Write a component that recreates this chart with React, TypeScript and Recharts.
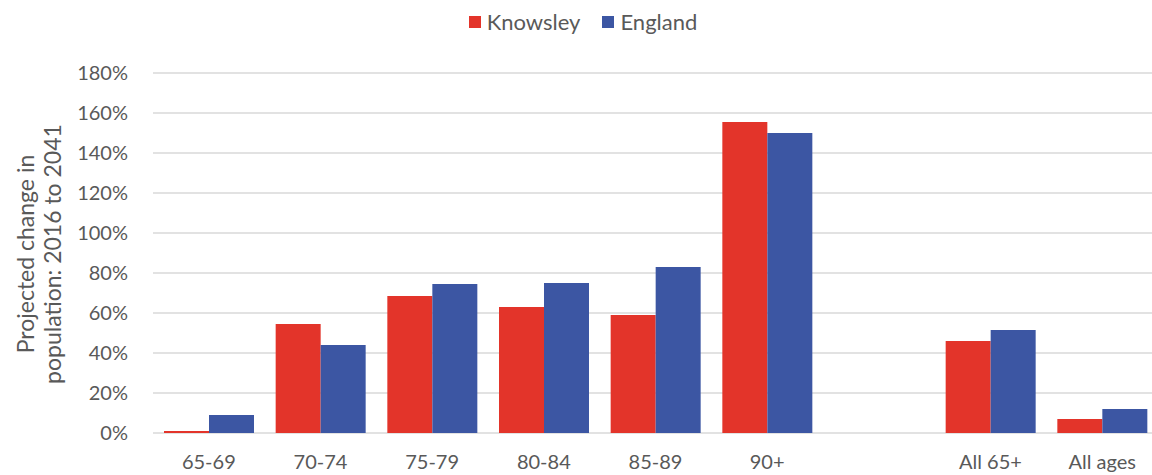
import { Bar, BarChart, CartesianGrid, Legend, XAxis, YAxis } from 'recharts';

const CATEGORIES = ['65-69', '70-74', '75-79', '80-84', '85-89', '90+', '', 'All 65+', 'All ages'];
const KNOWSLEY = [1, 54.5, 68.5, 63, 59, 155.5, null, 46, 7];
const ENGLAND = [9, 44, 74.5, 75, 83, 150, null, 51.5, 12];
const Y_TICKS = [0, 20, 40, 60, 80, 100, 120, 140, 160, 180];

const RED = '#e3342a';
const BLUE = '#3c56a3';
const TEXT = '#595959';
const FONT = 'Lato, "Open Sans", sans-serif';

const data = CATEGORIES.map((name, i) => ({
  name,
  knowsley: KNOWSLEY[i],
  england: ENGLAND[i],
}));

const renderLegend = () => (
  <div
    style={{
      display: 'flex',
      justifyContent: 'center',
      alignItems: 'center',
      height: 43,
      paddingLeft: 14,
      fontFamily: FONT,
      fontSize: 22,
      color: TEXT,
      boxSizing: 'border-box',
    }}>
    {[
      { label: 'Knowsley', color: RED },
      { label: 'England', color: BLUE },
    ].map((item, i) => (
      <div key={item.label} style={{ display: 'flex', alignItems: 'center', marginLeft: i ? 22 : 0 }}>
        <span style={{ width: 12, height: 12, background: item.color, marginRight: 6, display: 'inline-block' }} />
        <span>{item.label}</span>
      </div>
    ))}
  </div>
);

const YLabel = () => (
  <text fill={TEXT} fontFamily={FONT} fontSize={23} textAnchor="middle" transform="translate(0, 254) rotate(-90)">
    <tspan x={0} y={34}>
      Projected change in
    </tspan>
    <tspan x={0} y={61}>
      population: 2016 to 2041
    </tspan>
  </text>
);

export default function App() {
  return (
    <div style={{ position: 'absolute', left: 0, top: 0, width: 1152, height: 475, overflow: 'hidden', background: '#fff' }}>
      <BarChart
        width={1152}
        height={475}
        data={data}
        barGap={0}
        barSize={45}
        margin={{ top: 30, right: -6, bottom: 0, left: 0 }}>
        <CartesianGrid vertical={false} stroke="#d9d9d9" strokeWidth={1.5} />
        <XAxis
          dataKey="name"
          axisLine={false}
          tickLine={false}
          tickSize={0}
          tickMargin={22}
          height={42}
          interval={0}
          tick={{ fill: TEXT, fontSize: 20, fontFamily: FONT }}
        />
        <YAxis
          width={153}
          domain={[0, 180]}
          ticks={Y_TICKS}
          axisLine={false}
          tickLine={false}
          tickSize={0}
          tickMargin={25}
          tickFormatter={(v) => `${v}%`}
          tick={{ fill: TEXT, fontSize: 20, fontFamily: FONT }}
          label={<YLabel />}
        />
        <Legend
          verticalAlign="top"
          content={renderLegend}
          wrapperStyle={{ top: 0, left: 0, width: 1152, height: 43 }}
        />
        <Bar dataKey="knowsley" name="Knowsley" fill={RED} isAnimationActive={false} />
        <Bar dataKey="england" name="England" fill={BLUE} isAnimationActive={false} />
      </BarChart>
    </div>
  );
}
